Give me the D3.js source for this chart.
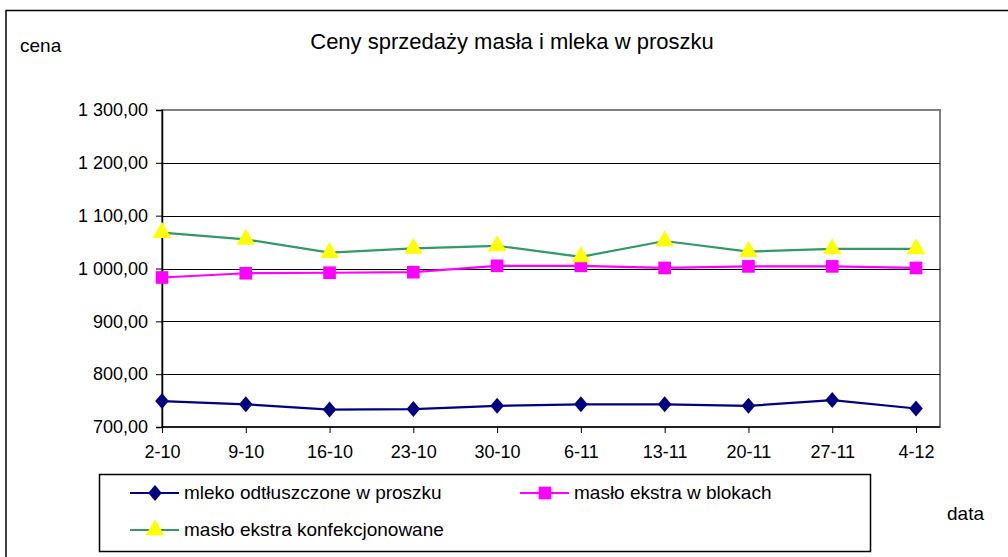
<!DOCTYPE html>
<html>
<head>
<meta charset="utf-8">
<script src="https://cdn.jsdelivr.net/npm/d3@7"></script>
<style>
  body { margin: 0; background: #fff; }
  text { font-family: "Liberation Sans", Arial, sans-serif; fill: #000; }
</style>
</head>
<body>
<div id="chart-area"></div>
<script>
// data
const dates = ['2-10', '9-10', '16-10', '23-10', '30-10', '6-11', '13-11', '20-11', '27-11', '4-12'];
const mleko = [749, 743, 733, 734, 740, 743, 743, 740, 751, 735];
const masloBloki = [983, 991, 992, 993, 1005, 1005, 1001, 1004, 1004, 1001];
const masloKonf = [1068, 1055, 1030, 1038, 1043, 1022, 1052, 1032, 1037, 1037];
const yTicks = [700, 800, 900, 1000, 1100, 1200, 1300];

const W = 1008, H = 557;
const plot = { left: 162, right: 940, top: 110, bottom: 427 };

const svg = d3.select('#chart-area').append('svg')
  .attr('width', W)
  .attr('height', H);

// outer chart frame (runs off right and bottom)
svg.append('path')
  .attr('d', `M6,${H + 5} V10.5 H${W + 5}`)
  .attr('fill', 'none')
  .attr('stroke', '#000')
  .attr('stroke-width', 1.5);

// scales
const x = d3.scalePoint()
  .domain(dates)
  .range([plot.left, 916]);

const y = d3.scaleLinear()
  .domain([700, 1300])
  .range([plot.bottom, plot.top]);

// plot area frame (gray)
svg.append('rect')
  .attr('x', plot.left)
  .attr('y', plot.top)
  .attr('width', plot.right - plot.left)
  .attr('height', plot.bottom - plot.top)
  .attr('fill', '#fff')
  .attr('stroke', '#808080')
  .attr('stroke-width', 2);

// gridlines
svg.append('g')
  .selectAll('line')
  .data(yTicks.filter(d => d > 700 && d < 1300))
  .enter().append('line')
    .attr('x1', plot.left)
    .attr('x2', plot.right)
    .attr('y1', d => Math.round(y(d)) + 0.5)
    .attr('y2', d => Math.round(y(d)) + 0.5)
    .attr('stroke', '#000')
    .attr('stroke-width', 1);

// y axis
const fmt = d => d3.format(',.2f')(d).replace(',', ' ').replace('.', ',');
const yAxisCall = d3.axisLeft(y)
  .tickValues(yTicks)
  .tickSize(6)
  .tickPadding(8)
  .tickFormat(fmt);
const yAxis = svg.append('g')
  .attr('transform', `translate(${plot.left}, 0)`)
  .call(yAxisCall);
yAxis.select('.domain').attr('stroke', '#000').attr('stroke-width', 1.5);
yAxis.selectAll('text').attr('font-size', '18px').attr('font-family', '"Liberation Sans", Arial, sans-serif');

// x axis
const xAxisCall = d3.axisBottom(x)
  .tickSize(6)
  .tickPadding(12)
  .tickSizeOuter(0);
const xAxis = svg.append('g')
  .attr('transform', `translate(0, ${plot.bottom})`)
  .call(xAxisCall);
xAxis.select('.domain')
  .attr('d', `M${plot.left},0H${plot.right}`)
  .attr('stroke', '#000')
  .attr('stroke-width', 1.5);
xAxis.selectAll('text').attr('font-size', '18px').attr('font-family', '"Liberation Sans", Arial, sans-serif');

// wider diamond than d3's default one
const wideDiamond = {
  draw(ctx, size) {
    const h = Math.sqrt(size) * 0.8;
    const w = h * 0.85;
    ctx.moveTo(0, -h);
    ctx.lineTo(w, 0);
    ctx.lineTo(0, h);
    ctx.lineTo(-w, 0);
    ctx.closePath();
  }
};

// series
const series = [
  { name: 'mleko odtłuszczone w proszku', values: mleko, line: '#000080', fill: '#000080', symbol: wideDiamond, size: 100 },
  { name: 'masło ekstra w blokach', values: masloBloki, line: '#ff00ff', fill: '#ff00ff', symbol: d3.symbolSquare, size: 160 },
  { name: 'masło ekstra konfekcjonowane', values: masloKonf, line: '#339966', fill: '#ffff00', symbol: d3.symbolTriangle, size: 150 }
];

const line = d3.line()
  .x((d, i) => x(dates[i]))
  .y(d => y(d));

series.forEach(s => {
  svg.append('path')
    .datum(s.values)
    .attr('fill', 'none')
    .attr('stroke', s.line)
    .attr('stroke-width', 2.2)
    .attr('d', line);
});

series.forEach(s => {
  svg.append('g')
    .selectAll('path')
    .data(s.values)
    .enter().append('path')
      .attr('d', d3.symbol().type(s.symbol).size(s.size))
      .attr('transform', (d, i) => `translate(${x(dates[i])}, ${y(d)})`)
      .attr('fill', s.fill);
});

// title and axis titles
svg.append('text')
  .attr('x', 512)
  .attr('y', 49)
  .attr('text-anchor', 'middle')
  .attr('font-size', '22px')
  .text('Ceny sprzedaży masła i mleka w proszku');

svg.append('text')
  .attr('x', 20)
  .attr('y', 52)
  .attr('font-size', '19px')
  .text('cena');

svg.append('text')
  .attr('x', 947)
  .attr('y', 520)
  .attr('font-size', '19px')
  .text('data');

// legend
const legend = svg.append('g');
legend.append('rect')
  .attr('x', 99.5)
  .attr('y', 474.5)
  .attr('width', 771)
  .attr('height', 77)
  .attr('fill', '#fff')
  .attr('stroke', '#000')
  .attr('stroke-width', 1.5);

const legendPos = [
  { x: 130, y: 493 },
  { x: 520, y: 493 },
  { x: 130, y: 530 }
];

series.forEach((s, i) => {
  const p = legendPos[i];
  legend.append('line')
    .attr('x1', p.x)
    .attr('x2', p.x + 49)
    .attr('y1', p.y)
    .attr('y2', p.y)
    .attr('stroke', s.line)
    .attr('stroke-width', 2.2);
  legend.append('path')
    .attr('d', d3.symbol().type(s.symbol).size(s.size))
    .attr('transform', `translate(${p.x + 25}, ${p.y})`)
    .attr('fill', s.fill);
  legend.append('text')
    .attr('x', p.x + 54)
    .attr('y', p.y + 6)
    .attr('font-size', '19px')
    .text(s.name);
});
</script>
</body>
</html>
